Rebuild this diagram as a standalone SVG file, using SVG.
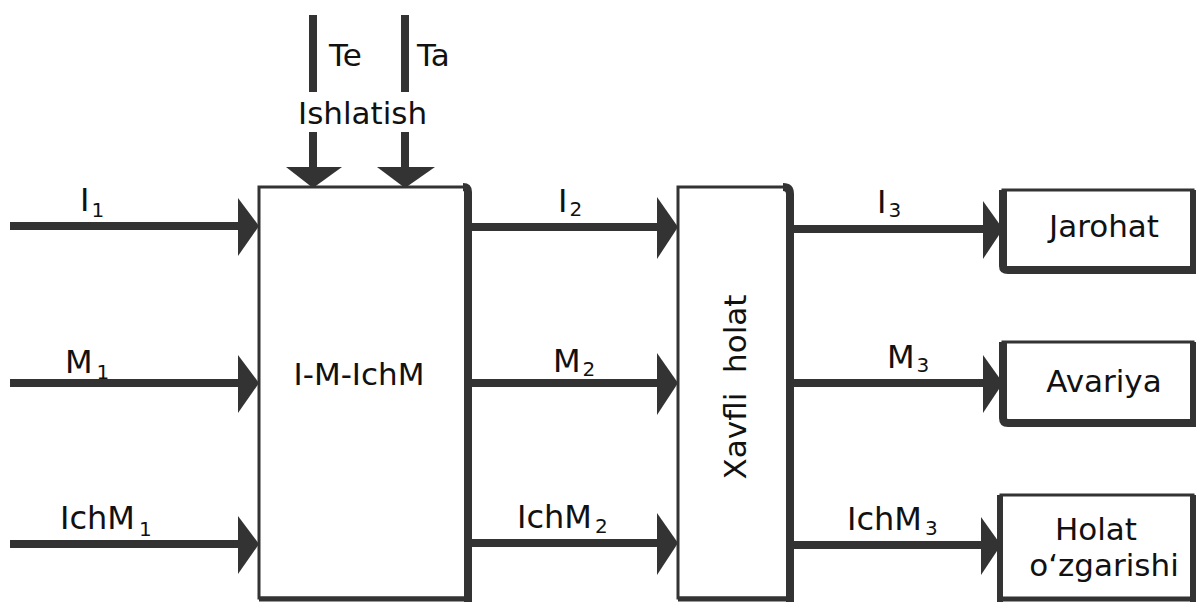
<svg xmlns="http://www.w3.org/2000/svg" width="1196" height="602" viewBox="0 0 1196 602">
<style>
.t{font-family:"DejaVu Sans","Liberation Sans",sans-serif;fill:#111;font-size:31px}
.lb{font-size:32px}
.s{font-size:20px}
.ln{stroke:#333;stroke-width:8;fill:none}
.thin{stroke:#333;stroke-width:3;fill:#fff}
.thick{stroke:#333;stroke-width:8;fill:none}
.ah{fill:#333}
</style>
<rect width="1196" height="602" fill="#fff"/>
<g id="main-box">
<rect class="thin" x="259" y="187" width="208" height="411"/>
<path class="thick" d="M463 187 Q468 187 468 192 V602"/>
<line x1="259" y1="599" x2="470" y2="599" stroke="#333" stroke-width="5"/>
<text class="t" x="359" y="385" text-anchor="middle" font-size="33">I-M-IchM</text>
</g>
<g id="xavfli-box">
<rect class="thin" x="678" y="187" width="110" height="411"/>
<path class="thick" d="M783 187 Q790 187 790 194 V602"/>
<line x1="678" y1="599" x2="792" y2="599" stroke="#333" stroke-width="5"/>
<text class="t" transform="translate(746 387) rotate(-90)" text-anchor="middle" font-size="29" style="white-space:pre">Xavfli  holat</text>
</g>
<g id="jarohat-box">
<rect class="thin" x="1003" y="190" width="190" height="78"/>
<path class="thick" d="M1003 190 V266 Q1003 270 1008 270 H1196"/>
<line x1="1193" y1="190" x2="1193" y2="272" stroke="#333" stroke-width="6"/>
<text class="t" x="1104" y="237" text-anchor="middle">Jarohat</text>
</g>
<g id="avariya-box">
<rect class="thin" x="1003" y="342" width="190" height="80"/>
<path class="thick" d="M1003 342 V418 Q1003 423 1008 423 H1196"/>
<line x1="1193" y1="342" x2="1193" y2="425" stroke="#333" stroke-width="6"/>
<text class="t" x="1104" y="392" text-anchor="middle">Avariya</text>
</g>
<g id="holat-box">
<rect class="thin" x="1001" y="495" width="192" height="104"/>
<line x1="1000" y1="495" x2="1000" y2="602" stroke="#333" stroke-width="6"/>
<line x1="1193" y1="495" x2="1193" y2="602" stroke="#333" stroke-width="6"/>
<line x1="1000" y1="599" x2="1196" y2="599" stroke="#333" stroke-width="5"/>
<text class="t" x="1096" y="540" text-anchor="middle" font-size="30">Holat</text>
<text class="t" x="1104" y="576" text-anchor="middle" font-size="30">o‘zgarishi</text>
</g>
<g id="connectors">
<line class="ln" x1="313" y1="15" x2="313" y2="92"/>
<line class="ln" x1="313" y1="132" x2="313" y2="172"/>
<polygon class="ah" points="286,167 342,167 313,188"/>
<line class="ln" x1="405" y1="15" x2="405" y2="92"/>
<line class="ln" x1="405" y1="132" x2="405" y2="172"/>
<polygon class="ah" points="377,167 435,167 405,188"/>
<line class="ln" x1="10" y1="226" x2="242" y2="226"/>
<polygon class="ah" points="238,198 259,226 238,256"/>
<line class="ln" x1="10" y1="383" x2="242" y2="383"/>
<polygon class="ah" points="238,355 259,383 238,413"/>
<line class="ln" x1="10" y1="544" x2="242" y2="544"/>
<polygon class="ah" points="238,516 259,544 238,574"/>
<line class="ln" x1="468" y1="227" x2="660" y2="227"/>
<polygon class="ah" points="657,197 678,227 657,259"/>
<line class="ln" x1="468" y1="383" x2="660" y2="383"/>
<polygon class="ah" points="657,353 678,383 657,415"/>
<line class="ln" x1="468" y1="543" x2="660" y2="543"/>
<polygon class="ah" points="657,513 678,543 657,575"/>
<line class="ln" x1="790" y1="229" x2="986" y2="229"/>
<polygon class="ah" points="983,201 1003,229 983,259"/>
<line class="ln" x1="790" y1="383" x2="986" y2="383"/>
<polygon class="ah" points="983,355 1003,383 983,413"/>
<line class="ln" x1="790" y1="545" x2="984" y2="545"/>
<polygon class="ah" points="981,517 1001,545 981,575"/>
</g>
<g id="labels">
<text class="t" x="329" y="66">Te</text>
<text class="t" x="417" y="66">Ta</text>
<text class="t" x="298" y="124">Ishlatish</text>
<text class="t lb" x="80" y="211">I<tspan class="s" dx="2" dy="6">1</tspan></text>
<text class="t lb" x="65" y="373">M<tspan class="s" dx="4" dy="6">1</tspan></text>
<text class="t lb" x="60" y="529">IchM<tspan class="s" dx="4" dy="7">1</tspan></text>
<text class="t lb" x="558" y="212">I<tspan class="s" dx="2" dy="4">2</tspan></text>
<text class="t lb" x="553" y="372">M<tspan class="s" dx="2" dy="4">2</tspan></text>
<text class="t lb" x="517" y="528">IchM<tspan class="s" dx="3" dy="5">2</tspan></text>
<text class="t lb" x="877" y="213">I<tspan class="s" dx="2" dy="4">3</tspan></text>
<text class="t lb" x="887" y="368">M<tspan class="s" dx="2" dy="4">3</tspan></text>
<text class="t lb" x="847" y="530">IchM<tspan class="s" dx="3" dy="5">3</tspan></text>
</g>
</svg>
